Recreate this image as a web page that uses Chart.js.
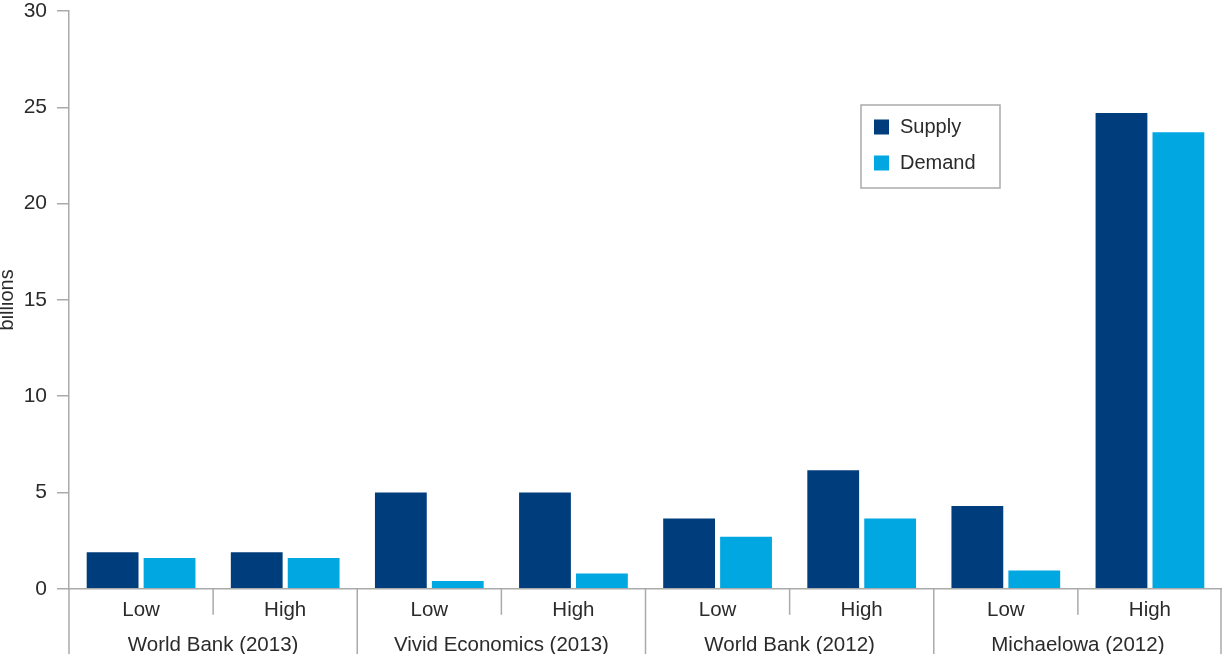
<!DOCTYPE html>
<html>
<head>
<meta charset="utf-8">
<script src="https://cdn.jsdelivr.net/npm/chart.js@4.4.0/dist/chart.umd.min.js"></script>
<style>
    body { margin: 0; background: #fff; }
    #wrap { width: 1222px; height: 654px; }
</style>
</head>
<body>
<div id="wrap"><canvas id="chart"></canvas></div>
<script>
const categories = ["Low", "High", "Low", "High", "Low", "High", "Low", "High"];
const groups = ["World Bank (2013)", "Vivid Economics (2013)", "World Bank (2012)", "Michaelowa (2012)"];
const supply = [1.9, 1.9, 5.0, 5.0, 3.65, 6.15, 4.3, 24.7];
const demand = [1.6, 1.6, 0.4, 0.8, 2.7, 3.65, 0.95, 23.7];
const yTicks = [0, 5, 10, 15, 20, 25, 30];

const FONT = "'Liberation Sans', Arial, Helvetica, sans-serif";
const TEXT = "#2b2b2b";
const LINE = "#aaaaaa";

// separators between categories, long ones between groups
const separators = {
    id: "separators",
    afterDraw(chart) {
        const x = chart.scales.x;
        const area = chart.chartArea;
        const ctx = chart.ctx;
        const n = categories.length;
        ctx.save();
        ctx.strokeStyle = LINE;
        ctx.lineWidth = 1.5;
        for (let i = 0; i <= n; i++) {
            let px;
            if (i === 0) px = x.left;
            else if (i === n) px = x.right - 1;
            else px = (x.getPixelForValue(i - 1) + x.getPixelForValue(i)) / 2;
            const bottom = i % 2 === 0 ? chart.height : area.bottom + 26;
            ctx.beginPath();
            ctx.moveTo(px, area.bottom);
            ctx.lineTo(px, bottom);
            ctx.stroke();
        }
        ctx.restore();
    }
};

// boxed legend inside the plot
const boxLegend = {
    id: "boxLegend",
    afterDraw(chart) {
        const ctx = chart.ctx;
        const left = 861, top = 105, w = 139, h = 83;
        ctx.save();
        ctx.strokeStyle = LINE;
        ctx.lineWidth = 1.5;
        ctx.strokeRect(left, top, w, h);
        ctx.font = "20px " + FONT;
        ctx.textBaseline = "middle";
        chart.data.datasets.forEach((ds, i) => {
            const cy = top + 22 + i * 36;
            ctx.fillStyle = ds.backgroundColor;
            ctx.fillRect(left + 13, cy - 7.5, 15, 15);
            ctx.fillStyle = TEXT;
            ctx.fillText(ds.label, left + 39, cy);
        });
        ctx.restore();
    }
};

new Chart(document.getElementById("chart"), {
    type: "bar",
    data: {
        labels: categories,
        datasets: [{
            label: "Supply",
            data: supply,
            backgroundColor: "#003d7c"
        }, {
            label: "Demand",
            data: demand,
            backgroundColor: "#00a7e1"
        }]
    },
    options: {
        responsive: true,
        maintainAspectRatio: false,
        animation: false,
        categoryPercentage: 0.79,
        barPercentage: 0.91,
        layout: { padding: { top: 11, right: 0, bottom: 0, left: 0 } },
        plugins: {
            legend: { display: false },
            tooltip: { enabled: false }
        },
        scales: {
            x: {
                type: "category",
                position: "bottom",
                offset: true,
                grid: { display: false },
                border: { display: true, color: LINE, width: 1.5 },
                ticks: { color: TEXT, font: { family: FONT, size: 20.5 }, padding: 1, maxRotation: 0 }
            },
            x2: {
                type: "category",
                position: "bottom",
                labels: groups,
                offset: true,
                afterFit(scale) {
                    scale.height -= 6;
                },
                grid: { display: false },
                border: { display: false },
                ticks: { color: TEXT, font: { family: FONT, size: 20.5 }, padding: 2, maxRotation: 0 }
            },
            y: {
                min: 0,
                max: 30,
                afterBuildTicks(scale) {
                    scale.ticks = yTicks.map(v => ({ value: v }));
                },
                afterFit(scale) {
                    scale.width = 69;
                    scale.paddingTop = 0;
                    scale.paddingBottom = 0;
                },
                grid: { drawOnChartArea: false, drawTicks: true, tickLength: 12, color: LINE, lineWidth: 1.5 },
                border: { display: true, color: LINE, width: 1.5 },
                ticks: { color: TEXT, font: { family: FONT, size: 21 }, padding: 10 },
                title: {
                    display: true,
                    text: "billions",
                    color: TEXT,
                    font: { family: FONT, size: 20 },
                    padding: { top: -5, bottom: 0 }
                }
            }
        }
    },
    plugins: [separators, boxLegend]
});
</script>
</body>
</html>
